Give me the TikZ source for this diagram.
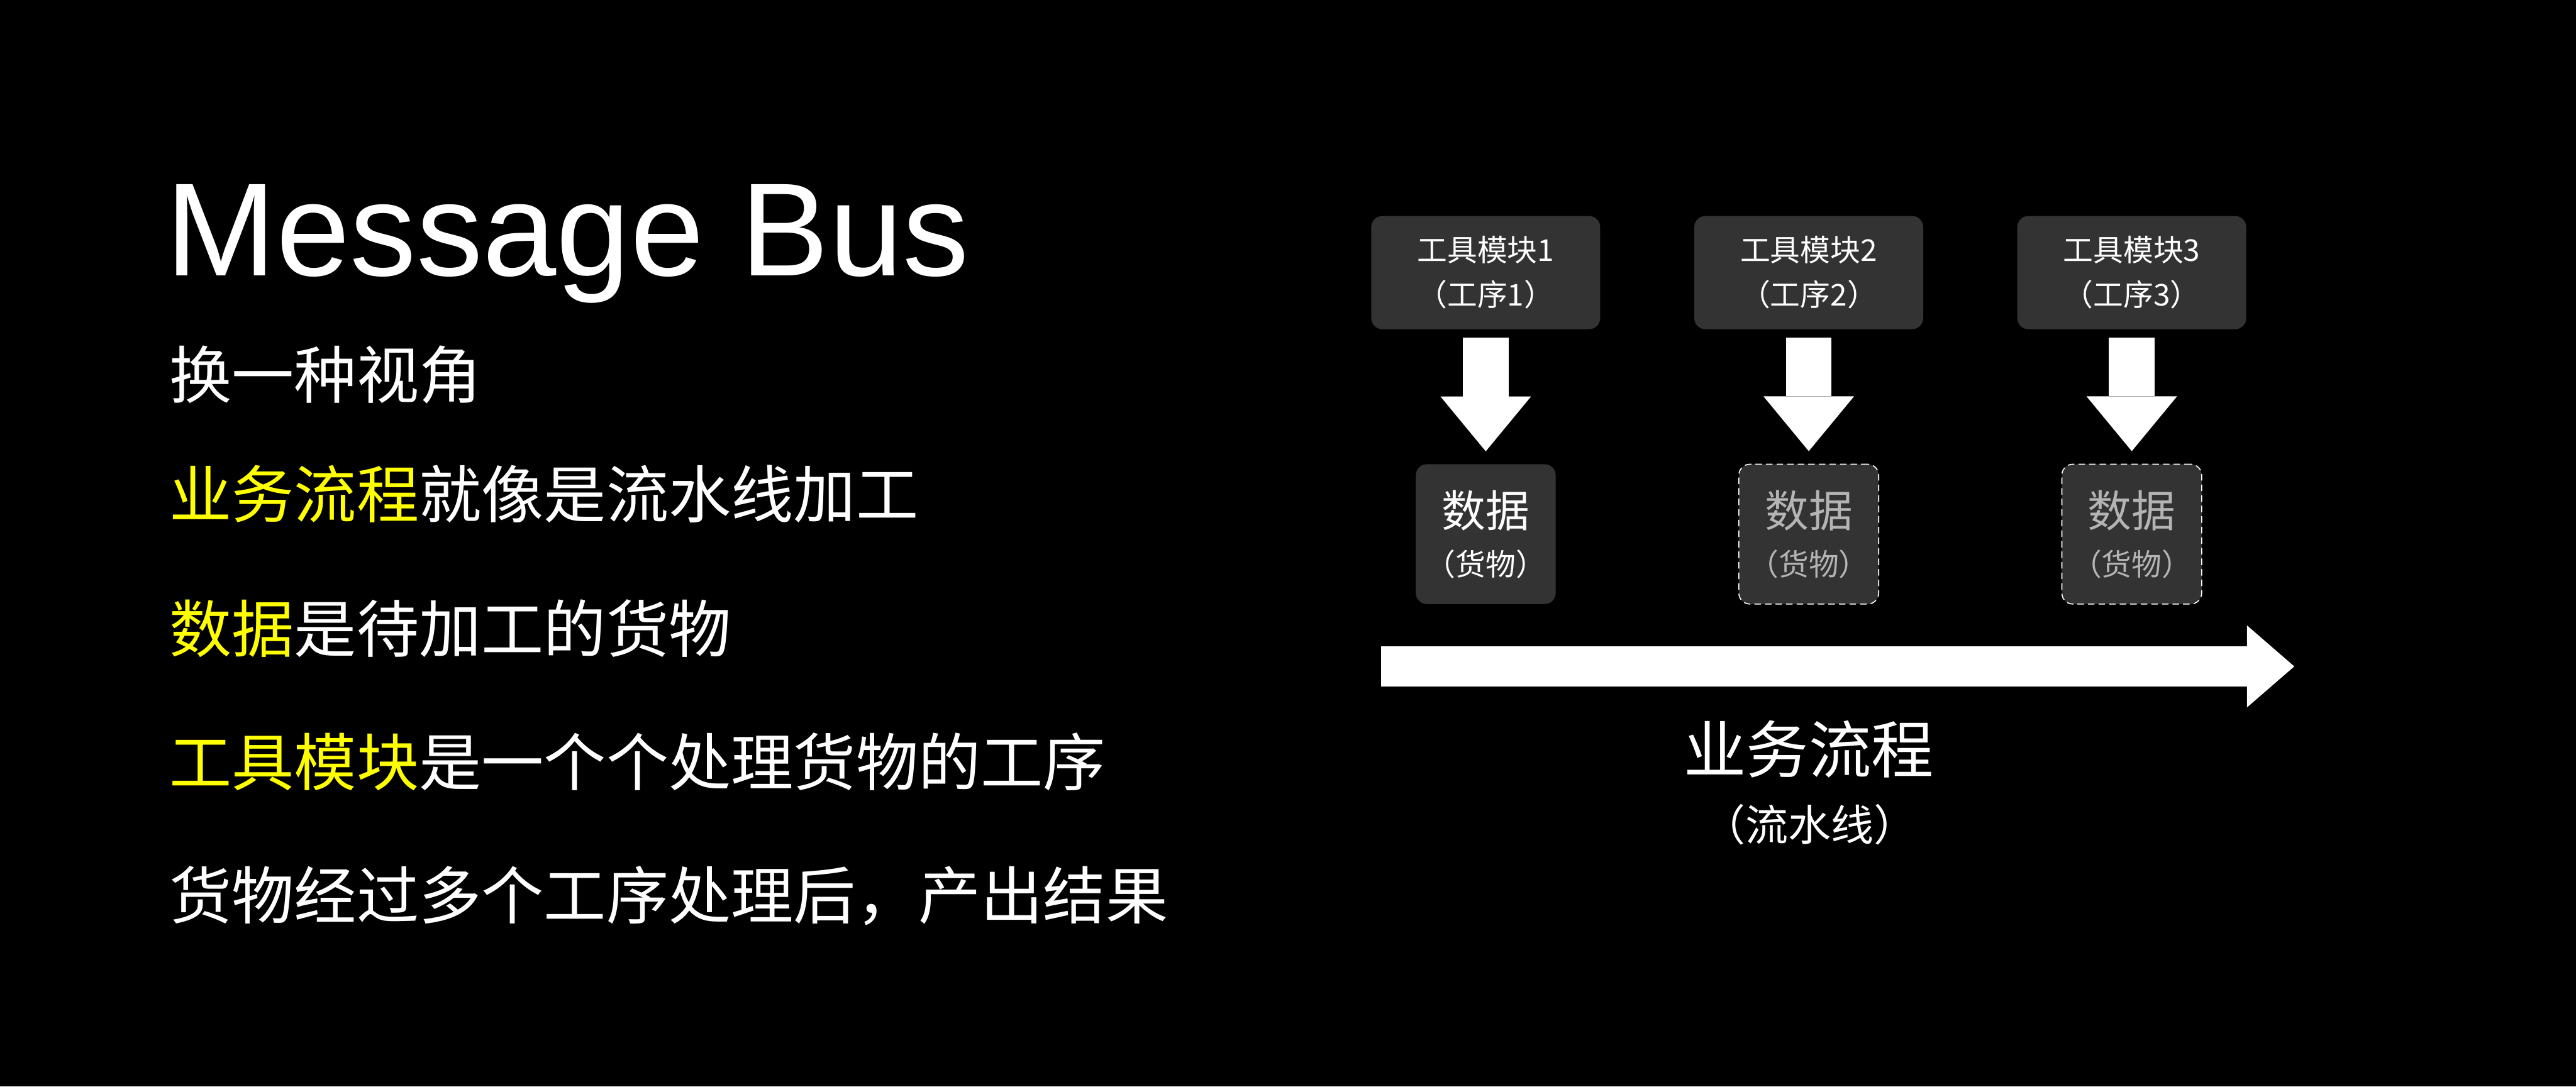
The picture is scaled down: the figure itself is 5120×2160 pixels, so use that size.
\documentclass[tikz,border=0pt]{standalone}
\usepackage{fontspec}
\setmainfont{Noto Sans CJK SC}
\newfontfamily\titlefont{Liberation Sans}
\usetikzlibrary{arrows.meta}

\definecolor{caisse}{HTML}{333333}
\definecolor{surligne}{HTML}{FFFF00}
\definecolor{grisclair}{HTML}{B4B4B4}

\begin{document}
\begin{tikzpicture}[x=0.1mm,y=-0.1mm, % 1 unité = 1 px de l'image, y vers le bas
  outil/.style={rectangle, rounded corners=2.2mm, fill=caisse, text=white,
    minimum width=45.5mm, minimum height=22.5mm, inner sep=0pt, align=center,
    font=\fontsize{17}{25.3}\selectfont},
  donnee/.style={rectangle, rounded corners=2.2mm, fill=caisse, text=white,
    minimum width=27.8mm, minimum height=27.8mm, inner sep=0pt, align=center,
    font=\fontsize{17}{27.3}\selectfont},
  attente/.style={donnee, text=grisclair, draw=white, line width=0.2mm,
    dash pattern=on 1.3mm off 0.8mm},
  ligne/.style={anchor=west, inner sep=0pt, text=white,
    font=\fontsize{35.3}{40}\selectfont},
  bloc/.style={white, line width=9.1mm,
    -{Triangle[width=18mm,length=10.9mm,line width=0pt]}},
]

% --------- PARAMÈTRES ----------
\def\xg{336}      % bord gauche du texte
\def\yo{542}      % centre des boîtes outil
\def\yd{1062}     % centre des boîtes données
% --------------------------------

% Fond noir (fixe aussi la taille)
\fill[black] (0,0) rectangle (5120,2160);

% Titre + texte à gauche
\node[anchor=base west, inner sep=0pt, text=white,
  font=\titlefont\fontsize{75}{80}\selectfont] (titre) at (329,548) {Message Bus};
\node[ligne] (l1) at (\xg,745)  {换一种视角};
\node[ligne] (l2) at (\xg,982)  {\textcolor{surligne}{业务流程}就像是流水线加工};
\node[ligne] (l3) at (\xg,1249) {\textcolor{surligne}{数据}是待加工的货物};
\node[ligne] (l4) at (\xg,1515) {\textcolor{surligne}{工具模块}是一个个处理货物的工序};
\node[ligne] (l5) at (\xg,1781) {货物经过多个工序处理后，产出结果};

% Outils, données et flèches
\foreach \i/\xc/\st in {1/2953/donnee, 2/3595/attente, 3/4237/attente}{
  \node[outil] (outil\i) at (\xc,\yo) {工具模块\i\\（工序\i）};
  \node[\st] (donnee\i) at (\xc,\yd) {{\fontsize{24.8}{27.3}\selectfont 数据}\\（货物）};
  \draw[bloc, shorten <=1.6mm, shorten >=2.5mm] (outil\i) -- (donnee\i);
}

% Flèche du flux
\coordinate (debut) at (2745,1325);
\coordinate (fin) at (4560,1325);
\draw[white, line width=8mm, -{Triangle[width=16.3mm,length=9.4mm,line width=0pt]}] (debut) -- (fin);

\node[inner sep=0pt, text=white, font=\fontsize{35.3}{40}\selectfont] (flux) at (3595,1490) {业务流程};
\node[inner sep=0pt, text=white, font=\fontsize{24.2}{28}\selectfont] (chaine) at (3597,1640) {（流水线）};

\end{tikzpicture}
\end{document}
